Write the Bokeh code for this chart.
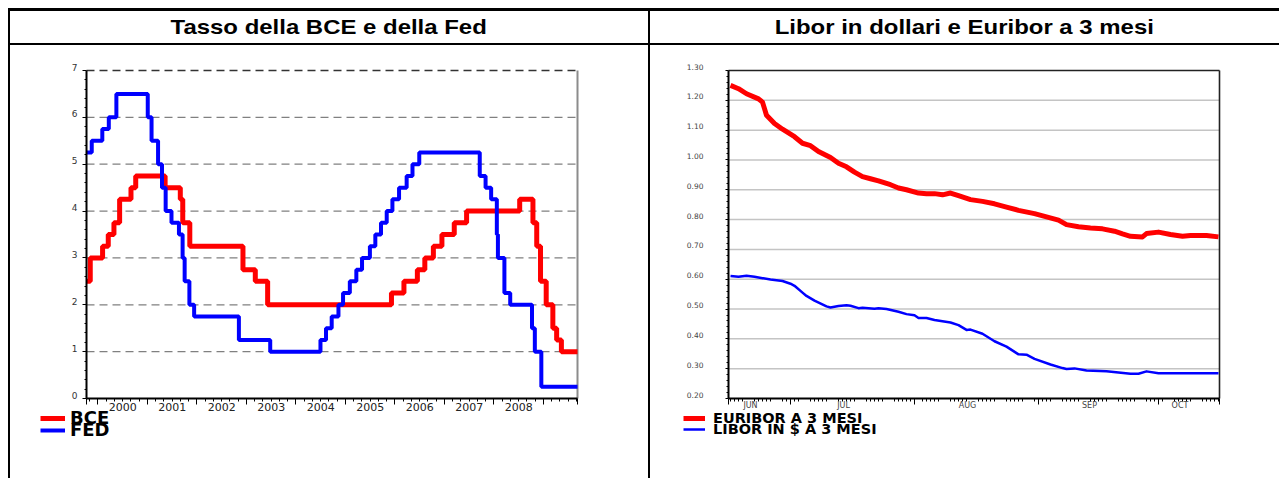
import pandas as pd
from bokeh.plotting import figure
from bokeh.models import (Div, FixedTicker, Range1d, Legend, LegendItem, Label,
                          CustomJSTickFormatter)
from bokeh.layouts import row, column
from bokeh.embed import file_html
from bokeh.resources import INLINE

# ---------------- data: left chart (policy rates) ----------------
bce_dates = ["1999-04-09", "1999-11-05", "2000-02-04", "2000-03-17", "2000-04-28", "2000-06-09",
             "2000-09-01", "2000-10-06", "2001-05-11", "2001-08-31", "2001-09-18", "2001-11-09",
             "2002-12-06", "2003-03-07", "2003-06-06", "2005-12-06", "2006-03-08", "2006-06-15",
             "2006-08-09", "2006-10-11", "2006-12-13", "2007-03-14", "2007-06-13", "2008-07-09",
             "2008-10-15", "2008-11-12", "2008-12-10", "2009-01-21", "2009-03-11", "2009-04-08",
             "2009-05-13"]
bce_rates = [2.5, 3.0, 3.25, 3.5, 3.75, 4.25, 4.5, 4.75, 4.5, 4.25, 3.75, 3.25, 2.75, 2.5, 2.0,
             2.25, 2.5, 2.75, 3.0, 3.25, 3.5, 3.75, 4.0, 4.25, 3.75, 3.25, 2.5, 2.0, 1.5, 1.25, 1.0]

fed_dates = ["1999-08-24", "1999-11-16", "2000-02-02", "2000-03-21", "2000-05-16", "2001-01-03",
             "2001-01-31", "2001-03-20", "2001-04-18", "2001-05-15", "2001-06-27", "2001-08-21",
             "2001-09-17", "2001-10-02", "2001-11-06", "2001-12-11", "2002-11-06", "2003-06-25",
             "2004-06-30", "2004-08-10", "2004-09-21", "2004-11-10", "2004-12-14", "2005-02-02",
             "2005-03-22", "2005-05-03", "2005-06-30", "2005-08-09", "2005-09-20", "2005-11-01",
             "2005-12-13", "2006-01-31", "2006-03-28", "2006-05-10", "2006-06-29", "2007-09-18",
             "2007-10-31", "2007-12-11", "2008-01-22", "2008-01-30", "2008-03-18", "2008-04-30",
             "2008-10-08", "2008-10-29", "2008-12-16"]
fed_rates = [5.25, 5.5, 5.75, 6.0, 6.5, 6.0, 5.5, 5.0, 4.5, 4.0, 3.75, 3.5, 3.0, 2.5, 2.0, 1.75,
             1.25, 1.0, 1.25, 1.5, 1.75, 2.0, 2.25, 2.5, 2.75, 3.0, 3.25, 3.5, 3.75, 4.0, 4.25,
             4.5, 4.75, 5.0, 5.25, 4.75, 4.5, 4.25, 3.5, 3.0, 2.25, 2.0, 1.5, 1.0, 0.25]

year_labels = ["2000", "2001", "2002", "2003", "2004", "2005", "2006", "2007", "2008"]
left_y_ticks = [0, 1, 2, 3, 4, 5, 6, 7]

# ---------------- data: right chart (3-month rates, 2009) ----------------
euribor_dates = ["2009-06-16", "2009-06-18", "2009-06-20", "2009-06-23", "2009-06-24", "2009-06-25",
                 "2009-06-27", "2009-06-29", "2009-07-02", "2009-07-04", "2009-07-06", "2009-07-08",
                 "2009-07-11", "2009-07-13", "2009-07-15", "2009-07-17", "2009-07-19", "2009-07-21",
                 "2009-07-23", "2009-07-26", "2009-07-28", "2009-07-30", "2009-08-02", "2009-08-04",
                 "2009-08-06", "2009-08-08", "2009-08-10", "2009-08-12", "2009-08-15", "2009-08-18",
                 "2009-08-21", "2009-08-24", "2009-08-27", "2009-08-31", "2009-09-03", "2009-09-06",
                 "2009-09-08", "2009-09-11", "2009-09-14", "2009-09-17", "2009-09-20", "2009-09-22",
                 "2009-09-24", "2009-09-27", "2009-09-28", "2009-10-01", "2009-10-04", "2009-10-07",
                 "2009-10-09", "2009-10-13", "2009-10-16"]
euribor = [1.250, 1.239, 1.222, 1.205, 1.194, 1.150, 1.122, 1.103, 1.078, 1.056, 1.048, 1.028,
           1.008, 0.989, 0.977, 0.959, 0.944, 0.937, 0.930, 0.917, 0.906, 0.900, 0.889, 0.887,
           0.887, 0.883, 0.889, 0.880, 0.867, 0.861, 0.853, 0.842, 0.831, 0.820, 0.809, 0.798,
           0.783, 0.776, 0.772, 0.769, 0.761, 0.752, 0.744, 0.742, 0.753, 0.758, 0.750, 0.744,
           0.747, 0.747, 0.742]

libor_dates = ["2009-06-16", "2009-06-18", "2009-06-20", "2009-06-22", "2009-06-23", "2009-06-26",
               "2009-06-29", "2009-07-01", "2009-07-02", "2009-07-04", "2009-07-05", "2009-07-07",
               "2009-07-10", "2009-07-11", "2009-07-13", "2009-07-15", "2009-07-16", "2009-07-18",
               "2009-07-19", "2009-07-22", "2009-07-23", "2009-07-25", "2009-07-28", "2009-07-30",
               "2009-08-01", "2009-08-02", "2009-08-04", "2009-08-06", "2009-08-10", "2009-08-12",
               "2009-08-14", "2009-08-15", "2009-08-18", "2009-08-21", "2009-08-24", "2009-08-27",
               "2009-08-29", "2009-08-31", "2009-09-04", "2009-09-07", "2009-09-08", "2009-09-10",
               "2009-09-13", "2009-09-18", "2009-09-21", "2009-09-24", "2009-09-26", "2009-09-28",
               "2009-10-01", "2009-10-05", "2009-10-16"]
libor = [0.611, 0.608, 0.612, 0.608, 0.606, 0.599, 0.594, 0.585, 0.578, 0.555, 0.544, 0.528,
         0.509, 0.505, 0.510, 0.513, 0.511, 0.503, 0.504, 0.501, 0.503, 0.500, 0.491, 0.483,
         0.479, 0.470, 0.470, 0.463, 0.455, 0.446, 0.430, 0.431, 0.417, 0.392, 0.374, 0.348,
         0.347, 0.333, 0.314, 0.302, 0.299, 0.301, 0.294, 0.291, 0.287, 0.283, 0.283, 0.291,
         0.285, 0.285, 0.285]

month_labels = ["JUN", "JUL", "AUG", "SEP", "OCT"]
month_starts = ["2009-06-01", "2009-07-01", "2009-08-01", "2009-09-01", "2009-10-01", "2009-11-01"]
right_y_ticks = [0.20, 0.30, 0.40, 0.50, 0.60, 0.70, 0.80, 0.90, 1.00, 1.10, 1.20, 1.30]

# ---------------- helpers ----------------
FONT = "DejaVu Sans"
RED = "#FF0000"
BLUE = "#0000FF"
DAY = 86400000

CELL_H = 433          # height of a chart cell (the whole cell is the plot frame)
PAD_TOP = 25          # cell top -> data area top
PAD_BOTTOM = 80       # data area bottom -> cell bottom
DATA_H = CELL_H - PAD_TOP - PAD_BOTTOM
DATA_W = 491


def dec_year(s):
    t = pd.Timestamp(s)
    a = pd.Timestamp(year=t.year, month=1, day=1)
    b = pd.Timestamp(year=t.year + 1, month=1, day=1)
    return t.year + (t - a) / (b - a)


def ms(s):
    return pd.Timestamp(s).value / 1e6


def clip_steps(xs, ys, x0, x1):
    start = ys[0]
    for x, y in zip(xs, ys):
        if x <= x0:
            start = y
    out_x, out_y = [x0], [start]
    for x, y in zip(xs, ys):
        if x0 < x < x1:
            out_x.append(x)
            out_y.append(y)
    out_x.append(x1)
    out_y.append(out_y[-1])
    return out_x, out_y


def make_fig(w, pad_left, x0, x1, y0, y1):
    pad_right = w - pad_left - DATA_W
    sx = DATA_W / (x1 - x0)
    sy = DATA_H / (y1 - y0)
    p = figure(width=w, height=CELL_H,
               x_range=Range1d(x0 - pad_left / sx, x1 + pad_right / sx),
               y_range=Range1d(y0 - PAD_BOTTOM / sy, y1 + PAD_TOP / sy),
               output_backend="svg", toolbar_location=None, title=None,
               min_border=0, outline_line_color=None,
               background_fill_color="white", border_fill_color="white")
    p.xgrid.visible = False
    p.ygrid.visible = False
    return p, sx, sy


def style_axis(ax, loc, bounds, ticker, tick_out, minor_out):
    ax.fixed_location = loc
    ax.bounds = bounds
    ax.ticker = ticker
    ax.axis_line_width = 2
    ax.axis_line_color = "black"
    ax.major_tick_line_color = "black"
    ax.minor_tick_line_color = "black"
    ax.major_tick_in = 0
    ax.minor_tick_in = 0
    ax.major_tick_out = tick_out
    ax.minor_tick_out = minor_out
    ax.formatter = CustomJSTickFormatter(code="return ''")
    ax.major_label_text_font_size = "1px"
    ax.major_label_standoff = 0


def add_label(p, x, y, text, size, color, align="center", x_offset=0):
    p.add_layout(Label(x=x, y=y, text=text, x_offset=x_offset, text_font=FONT,
                       text_font_size=size, text_color=color, text_align=align,
                       text_baseline="middle"))


def add_legend_entry(p, label, renderer, loc, size, glyph_w, standoff):
    p.add_layout(Legend(items=[LegendItem(label=label, renderers=[renderer])],
                        location=loc, orientation="vertical", label_text_font=FONT,
                        label_text_font_size=size, label_text_font_style="bold",
                        label_text_color="black", glyph_width=glyph_w, glyph_height=10,
                        label_height=10, label_standoff=standoff, spacing=0, padding=0,
                        margin=0, border_line_color=None, background_fill_alpha=0),
                 "center")


# ---------------- left chart ----------------
LW = 638
xL0, xL1 = 1999.768, 2009.687
pL, sxL, syL = make_fig(LW, 76, xL0, xL1, 0, 7)

# dashed grid, dashed top edge, grey right edge
grid_L = [v for v in left_y_ticks if 0 < v < 7]
pL.segment(x0=[xL0] * len(grid_L), y0=grid_L, x1=[xL1] * len(grid_L), y1=grid_L,
           line_color="#808080", line_dash="8 5", line_width=1.3)
pL.segment(x0=[xL0], y0=[7], x1=[xL1], y1=[7], line_color="#333333", line_dash="8 5",
           line_width=1.6)
pL.segment(x0=[xL1], y0=[0], x1=[xL1], y1=[7], line_color="#8c8c8c", line_width=2)

bx, by = clip_steps([dec_year(d) for d in bce_dates], bce_rates, xL0, xL1)
fx, fy = clip_steps([dec_year(d) for d in fed_dates], fed_rates, xL0, xL1)
r_bce = pL.step(bx, by, mode="after", line_color=RED, line_width=5)
r_fed = pL.step(fx, fy, mode="after", line_color=BLUE, line_width=4)

years = list(range(2000, 2010))
minor_L = [y + m / 12 for y in range(1999, 2010) for m in (2, 4, 6, 8, 10)]
minor_L = [v for v in minor_L if xL0 < v < xL1]
style_axis(pL.xaxis[0], 0, (xL0, xL1),
           FixedTicker(ticks=[xL0] + years + [xL1], minor_ticks=minor_L), 6, 3)
style_axis(pL.yaxis[0], xL0, (0, 7),
           FixedTicker(ticks=left_y_ticks, minor_ticks=[i / 5 for i in range(1, 35) if i % 5]),
           4, 2)

for lab in year_labels:
    add_label(pL, int(lab) + 0.5, -8 / syL, lab, "11px", "#222222")
for v in left_y_ticks:
    add_label(pL, xL0, v + 3.5 / syL, str(v), "9px", "#333333", align="right", x_offset=-9)

add_legend_entry(pL, "BCE", r_bce, (30, 50), "18px", 25, 5)
add_legend_entry(pL, "FED", r_fed, (30, 38), "18px", 25, 5)

# ---------------- right chart ----------------
RW = 629
xR0 = ms("2009-07-01") - 15.5 * DAY
xR1 = ms("2009-10-01") + 15.25 * DAY
pR, sxR, syR = make_fig(RW, 78, xR0, xR1, 0.2, 1.3)

grid_R = [v for v in right_y_ticks if 0.2 < v < 1.3]
pR.segment(x0=[xR0] * len(grid_R), y0=grid_R, x1=[xR1] * len(grid_R), y1=grid_R,
           line_color="#c4c4c4", line_width=1.5)
pR.segment(x0=[xR0, xR1], y0=[1.3, 0.2], x1=[xR1, xR1], y1=[1.3, 1.3],
           line_color="#222222", line_width=1.6)

r_eur = pR.line([ms(d) for d in euribor_dates], euribor, line_color=RED, line_width=5,
                line_join="round")
r_lib = pR.line([ms(d) for d in libor_dates], libor, line_color=BLUE, line_width=2.5,
                line_join="round")

mstarts = [ms(d) for d in month_starts]
major_R = [xR0] + [m for m in mstarts if xR0 < m < xR1] + [xR1]
bdays = [ms(d) for d in pd.bdate_range("2009-06-15", "2009-10-16")]
minor_R = [v for v in bdays if xR0 < v < xR1 and v not in mstarts]
style_axis(pR.xaxis[0], 0.2, (xR0, xR1), FixedTicker(ticks=major_R, minor_ticks=minor_R), 6, 3)
style_axis(pR.yaxis[0], xR0, (0.2, 1.3),
           FixedTicker(ticks=right_y_ticks,
                       minor_ticks=[0.2 + i * 0.02 for i in range(1, 55) if i % 5]), 3, 2)

for i, lab in enumerate(month_labels):
    lo = max(mstarts[i], xR0)
    hi = min(mstarts[i + 1], xR1)
    add_label(pR, (lo + hi) / 2, 0.2 - 7 / syR, lab, "8px", "#444444", x_offset=-9)
for v in right_y_ticks:
    add_label(pR, xR0, v + 4 / syR, f"{v:.2f}", "7.5px", "#444444", align="right",
              x_offset=-25)

add_legend_entry(pR, "EURIBOR A 3 MESI", r_eur, (33, 52), "14.5px", 22, 8)
add_legend_entry(pR, "LIBOR IN $ A 3 MESI", r_lib, (33, 41), "14.5px", 22, 8)


# ---------------- table frame & titles ----------------
def bar(w, h):
    return Div(text="", width=w, height=h, margin=0, styles={"background-color": "black"})


def title_div(txt, w):
    html = (f'<div style="width:{w}px;height:32px;line-height:32px;text-align:center;'
            f'font-family:\'Liberation Sans\',Arial,sans-serif;font-weight:bold;font-size:21px;'
            f'color:black;"><span style="display:inline-block;transform:scaleX(1.14)">{txt}'
            f'</span></div>')
    return Div(text=html, width=w, height=32, margin=0)


TOTAL_W = 2 + LW + 2 + RW
layout = column(
    bar(TOTAL_W, 3),
    row(bar(2, 32), title_div("Tasso della BCE e della Fed", LW), bar(2, 32),
        title_div("Libor in dollari e Euribor a 3 mesi", RW)),
    bar(TOTAL_W, 2),
    row(bar(2, CELL_H), pL, bar(2, CELL_H), pR),
    margin=(8, 0, 0, 8),
)

open("out.html", "w").write(file_html(layout, INLINE, title="chart"))
